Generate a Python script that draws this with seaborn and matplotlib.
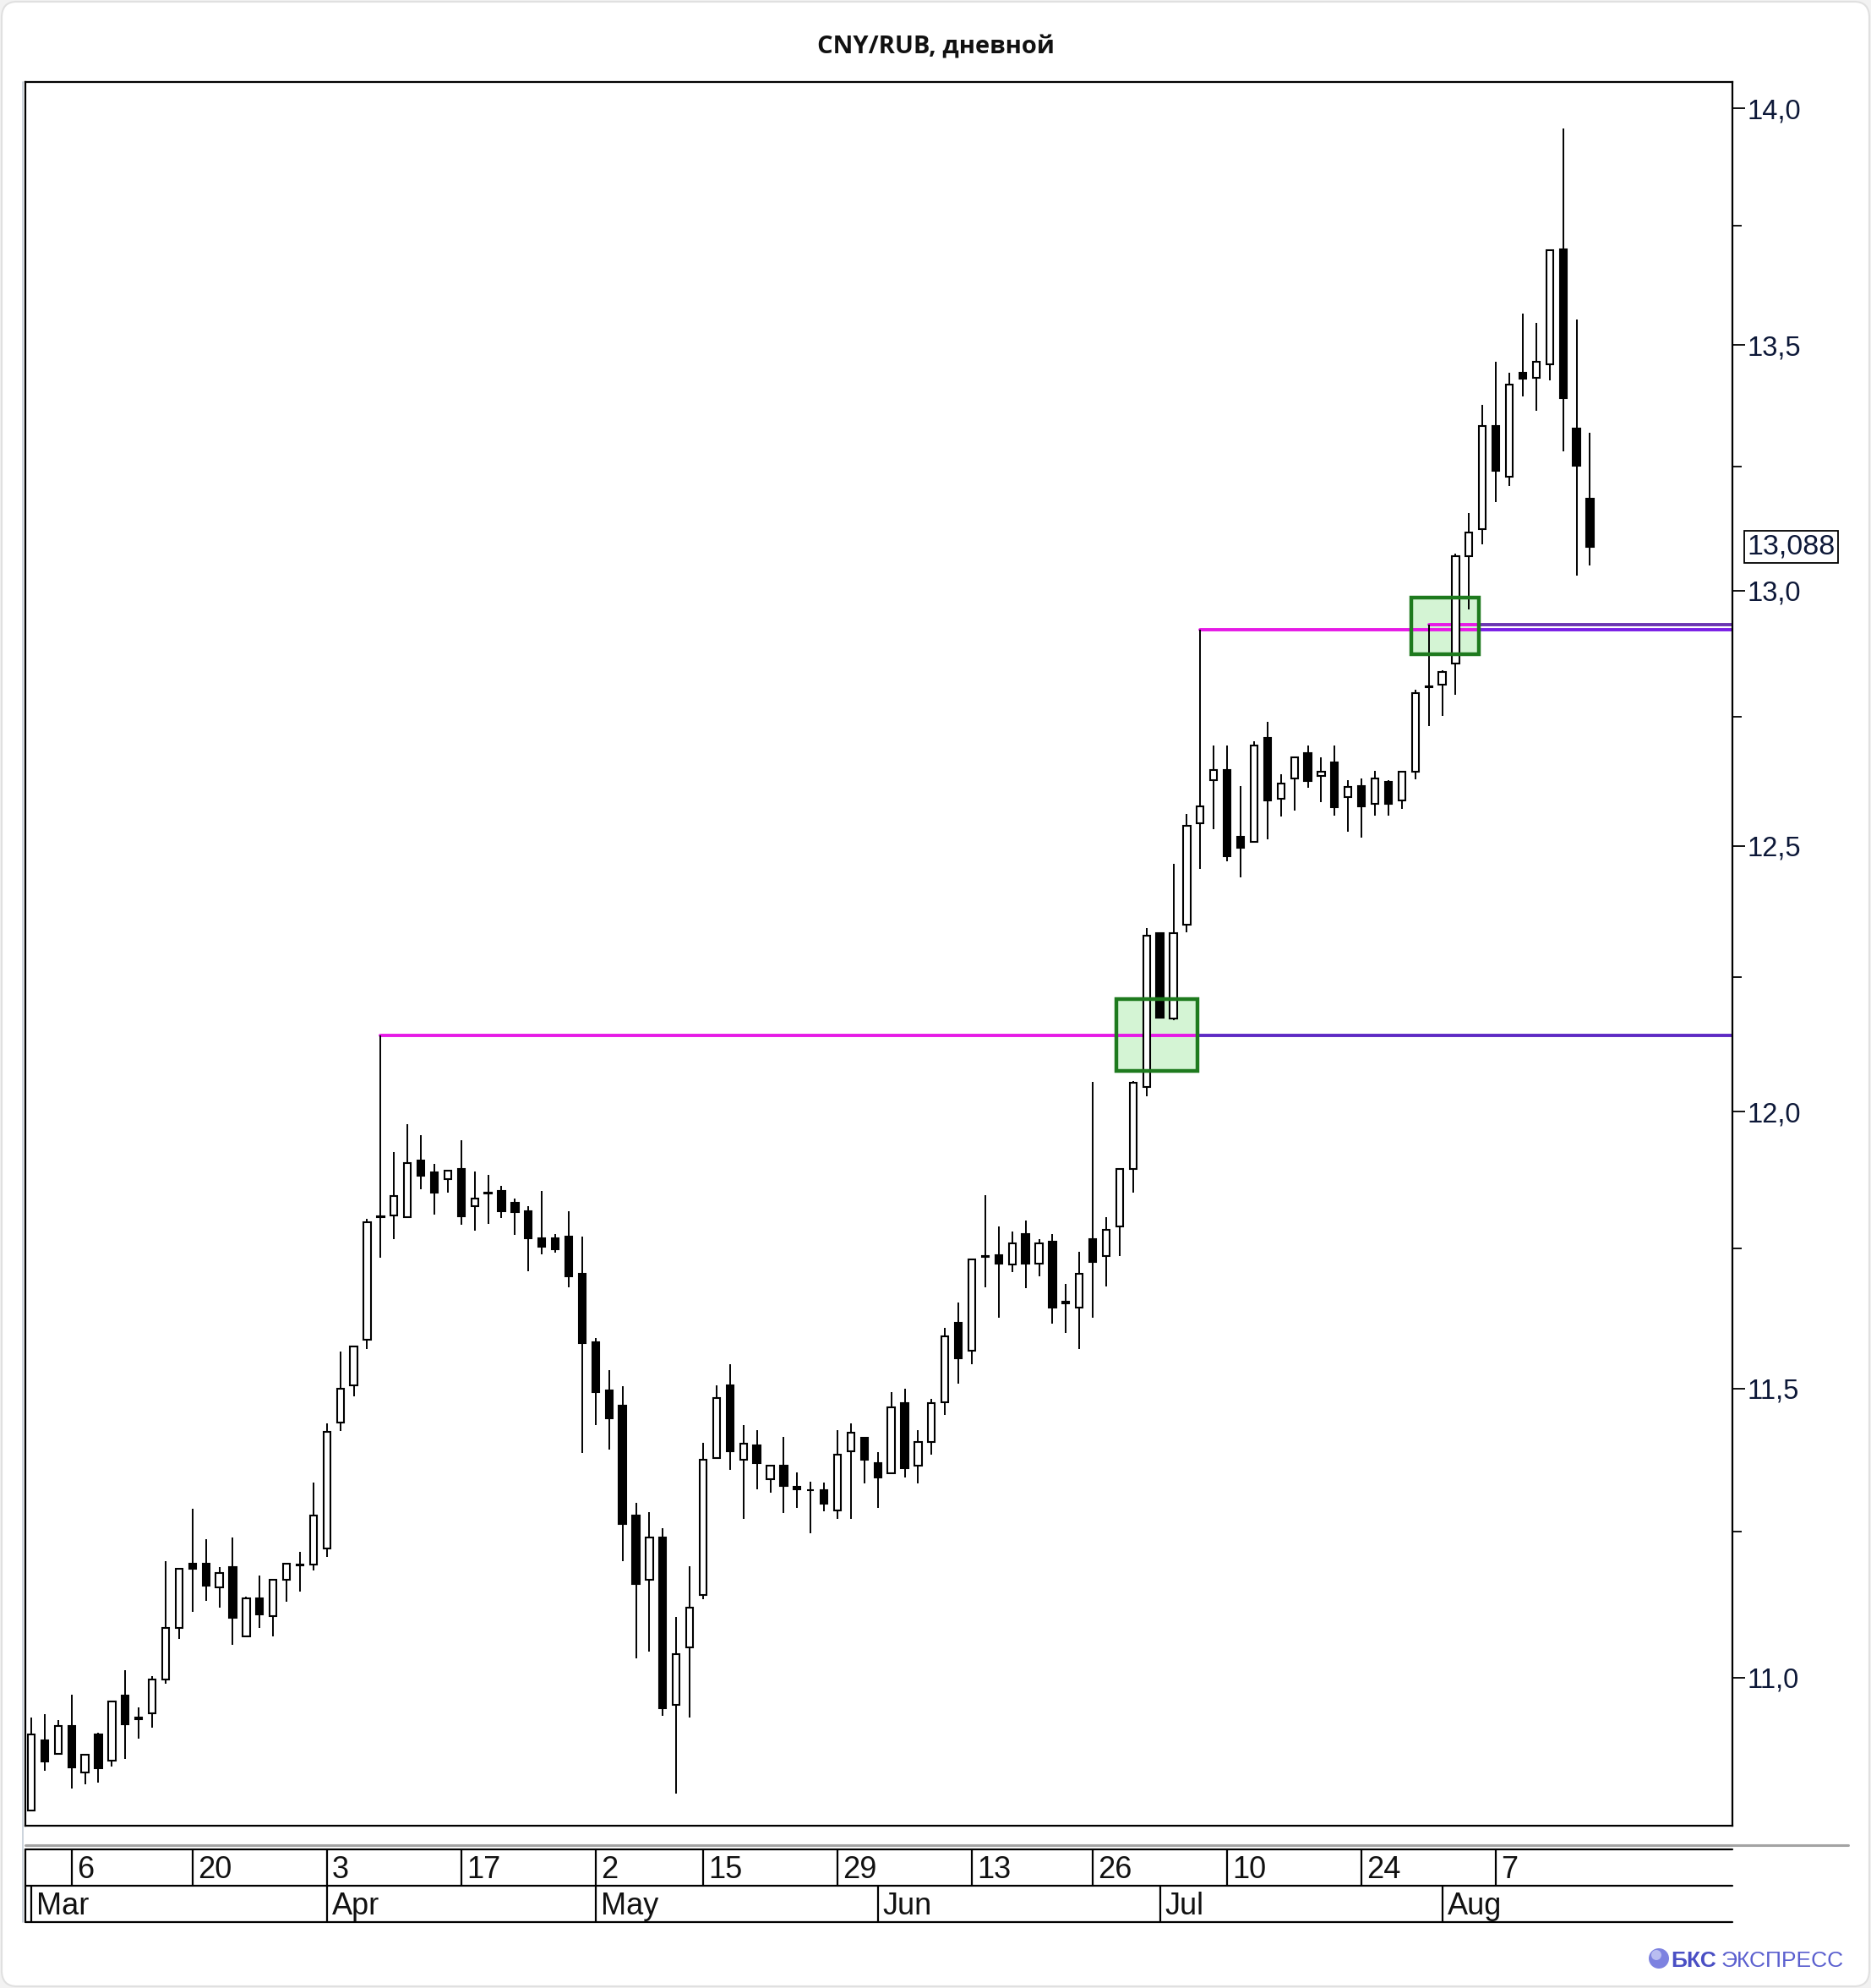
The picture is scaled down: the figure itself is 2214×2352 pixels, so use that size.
import numpy as np
import matplotlib
matplotlib.use("Agg")
import matplotlib.pyplot as plt
import seaborn as sns
from matplotlib.ticker import FixedLocator, FixedFormatter, NullFormatter
from matplotlib.patches import Rectangle, FancyBboxPatch, Circle
from matplotlib.lines import Line2D

# ---------------- data (daily CNY/RUB candles, index = trading day) ----------------
opens = [10.778, 10.895, 10.872, 10.919, 10.841, 10.905, 10.861, 10.969, 10.932, 10.940,
         10.997, 11.085, 11.195, 11.195, 11.154, 11.188, 11.070, 11.135, 11.104, 11.167,
         11.192, 11.193, 11.221, 11.440, 11.506, 11.586, 11.806, 11.810, 11.806, 11.910,
         11.888, 11.876, 11.894, 11.827, 11.852, 11.854, 11.833, 11.817, 11.768, 11.768,
         11.771, 11.705, 11.582, 11.497, 11.469, 11.277, 11.166, 11.240, 10.954, 11.051,
         11.141, 11.378, 11.506, 11.375, 11.400, 11.340, 11.365, 11.328, 11.322, 11.321,
         11.286, 11.390, 11.413, 11.368, 11.351, 11.474, 11.365, 11.406, 11.476, 11.616,
         11.567, 11.735, 11.738, 11.721, 11.776, 11.723, 11.763, 11.654, 11.644, 11.767,
         11.737, 11.790, 11.895, 12.046, 12.333, 12.172, 12.350, 12.543, 12.627, 12.647,
         12.517, 12.507, 12.710, 12.591, 12.631, 12.680, 12.635, 12.662, 12.595, 12.616,
         12.581, 12.623, 12.587, 12.644, 12.808, 12.814, 12.855, 13.069, 13.123, 13.334,
         13.230, 13.443, 13.433, 13.461, 13.701, 13.328, 13.186]
highs = [10.932, 10.938, 10.929, 10.971, 10.870, 10.907, 10.960, 11.012, 10.950, 11.003,
         11.199, 11.186, 11.289, 11.237, 11.188, 11.240, 11.137, 11.174, 11.166, 11.194,
         11.214, 11.335, 11.439, 11.566, 11.576, 11.803, 12.141, 11.926, 11.977, 11.957,
         11.903, 11.892, 11.947, 11.890, 11.883, 11.864, 11.841, 11.826, 11.854, 11.776,
         11.818, 11.772, 11.590, 11.533, 11.504, 11.299, 11.283, 11.255, 11.103, 11.190,
         11.404, 11.506, 11.543, 11.435, 11.426, 11.365, 11.414, 11.353, 11.336, 11.335,
         11.426, 11.439, 11.414, 11.388, 11.494, 11.500, 11.426, 11.481, 11.607, 11.653,
         11.732, 11.847, 11.790, 11.780, 11.800, 11.767, 11.776, 11.686, 11.744, 12.054,
         11.807, 11.895, 12.056, 12.343, 12.335, 12.465, 12.562, 12.922, 12.695, 12.695,
         12.616, 12.702, 12.741, 12.638, 12.672, 12.694, 12.672, 12.695, 12.627, 12.631,
         12.645, 12.627, 12.644, 12.804, 12.933, 12.842, 13.075, 13.157, 13.377, 13.466,
         13.443, 13.566, 13.546, 13.699, 13.958, 13.554, 13.320]
lows = [10.776, 10.843, 10.870, 10.814, 10.821, 10.824, 10.851, 10.864, 10.897, 10.915,
        10.989, 11.066, 11.112, 11.131, 11.119, 11.056, 11.070, 11.085, 11.070, 11.129,
        11.147, 11.182, 11.206, 11.425, 11.486, 11.570, 11.733, 11.767, 11.806, 11.858,
        11.811, 11.852, 11.793, 11.782, 11.795, 11.805, 11.775, 11.709, 11.740, 11.743,
        11.680, 11.386, 11.435, 11.392, 11.199, 11.032, 11.044, 10.936, 10.805, 10.932,
        11.134, 11.378, 11.357, 11.272, 11.323, 11.317, 11.282, 11.291, 11.247, 11.285,
        11.272, 11.272, 11.333, 11.291, 11.349, 11.343, 11.333, 11.383, 11.453, 11.508,
        11.543, 11.680, 11.625, 11.707, 11.678, 11.700, 11.615, 11.599, 11.570, 11.625,
        11.681, 11.737, 11.851, 12.028, 12.172, 12.170, 12.335, 12.456, 12.532, 12.470,
        12.440, 12.507, 12.513, 12.557, 12.568, 12.612, 12.584, 12.559, 12.527, 12.516,
        12.559, 12.559, 12.572, 12.628, 12.732, 12.752, 12.793, 12.962, 13.093, 13.178,
        13.211, 13.394, 13.364, 13.427, 13.282, 13.031, 13.050]
closes = [10.905, 10.859, 10.919, 10.849, 10.870, 10.848, 10.960, 10.922, 10.930, 10.997,
          11.085, 11.186, 11.185, 11.157, 11.179, 11.101, 11.135, 11.107, 11.166, 11.194,
          11.193, 11.277, 11.424, 11.500, 11.574, 11.797, 11.808, 11.845, 11.906, 11.882,
          11.852, 11.892, 11.809, 11.840, 11.850, 11.818, 11.816, 11.769, 11.753, 11.748,
          11.700, 11.580, 11.493, 11.447, 11.263, 11.159, 11.239, 10.948, 11.040, 11.119,
          11.375, 11.483, 11.390, 11.402, 11.368, 11.365, 11.329, 11.323, 11.321, 11.298,
          11.384, 11.422, 11.374, 11.343, 11.467, 11.360, 11.406, 11.474, 11.593, 11.553,
          11.730, 11.737, 11.723, 11.759, 11.723, 11.759, 11.644, 11.651, 11.704, 11.726,
          11.783, 11.895, 12.053, 12.329, 12.174, 12.333, 12.539, 12.576, 12.647, 12.480,
          12.496, 12.695, 12.587, 12.620, 12.672, 12.626, 12.644, 12.574, 12.614, 12.576,
          12.631, 12.581, 12.644, 12.797, 12.811, 12.838, 13.070, 13.117, 13.334, 13.242,
          13.419, 13.431, 13.465, 13.699, 13.390, 13.252, 13.088]

day_tick_idx = [3, 12, 22, 32, 42, 50, 60, 70, 79, 89, 99, 109]
day_tick_labels = ['6', '20', '3', '17', '2', '15', '29', '13', '26', '10', '24', '7']
month_idx = [0, 22, 42, 63, 84, 105]
month_labels = ['Mar', 'Apr', 'May', 'Jun', 'Jul', 'Aug']

y_major = [11.0, 11.5, 12.0, 12.5, 13.0, 13.5, 14.0]
y_major_labels = ['11,0', '11,5', '12,0', '12,5', '13,0', '13,5', '14,0']
y_minor = [11.25, 11.75, 12.25, 12.75, 13.25, 13.75]

last_price = 13.088
last_label = '13,088'

# horizontal levels: value, starting candle, point where the colour changes
level_values = [12.141, 12.922, 12.933]
level_start = [26, 87, 104]
level_switch = [86.78, 107.76, 107.76]
level_after_colors = ['#5E2AC4', '#7A1FE6', '#6A35B2']

# highlight boxes
box_x0 = [80.76, 102.70]
box_x1 = [86.78, 107.76]
box_y0 = [12.075, 12.873]
box_y1 = [12.209, 12.987]

title_text = 'CNY/RUB, дневной'

# ---------------- style ----------------
sns.set_theme(style='white')
plt.rcParams['font.family'] = ['Liberation Sans', 'DejaVu Sans']

W, H = 2214, 2352
fig = plt.figure(figsize=(W / 100, H / 100), dpi=100)
fig.patch.set_facecolor('#f2f2f2')


def fx(px):
    return px / W


def fy(py):
    return 1 - py / H


card = FancyBboxPatch((2 / W, 2 / H), 1 - 4 / W, 1 - 4 / H,
                      boxstyle='round,pad=0,rounding_size=0.008',
                      transform=fig.transFigure, facecolor='white',
                      edgecolor='#e0e0e0', lw=1.5, zorder=-5)
fig.patches.append(card)

XMIN, XMAX = -0.47, 126.6
YMIN, YMAX = 10.7524, 14.0574

ax = fig.add_axes([fx(29.5), fy(2160), fx(2050) - fx(29.5), fy(97) - fy(2160)])
ax.set_facecolor('white')
ax.set_yscale('log')

x = np.arange(len(opens))
o = np.array(opens)
c = np.array(closes)
h = np.array(highs)
l = np.array(lows)
up = c >= o
bottoms = np.minimum(o, c)
heights = np.maximum(np.abs(c - o), 0.0012)

# boxes fill (under candles)
for x0, x1, y0, y1 in zip(box_x0, box_x1, box_y0, box_y1):
    ax.add_patch(Rectangle((x0, y0), x1 - x0, y1 - y0, facecolor='#d4f4d4',
                           edgecolor='none', zorder=1.5))

# level lines via seaborn
for val, s, sw, col2 in zip(level_values, level_start, level_switch, level_after_colors):
    sns.lineplot(x=[s, sw], y=[val, val], color='#E61AE6', lw=2.8, ax=ax,
                 legend=False, estimator=None, sort=False, zorder=2.5)
    sns.lineplot(x=[sw, XMAX], y=[val, val], color=col2, lw=2.8, ax=ax,
                 legend=False, estimator=None, sort=False, zorder=2.5)

# candles
ax.vlines(x, l, h, color='black', lw=1.4, zorder=3)
ax.bar(x[up], heights[up], bottom=bottoms[up], width=0.52, color='white',
       edgecolor='black', lw=1.5, zorder=4)
ax.bar(x[~up], heights[~up], bottom=bottoms[~up], width=0.52, color='black',
       edgecolor='black', lw=1.5, zorder=4)

# box outlines
for x0, x1, y0, y1 in zip(box_x0, box_x1, box_y0, box_y1):
    ax.add_patch(Rectangle((x0, y0), x1 - x0, y1 - y0, facecolor='none',
                           edgecolor='#1E7A1E', lw=3.2, zorder=5))

ax.set_xlim(XMIN, XMAX)
ax.set_ylim(YMIN, YMAX)
ax.set_xlabel('')
ax.set_ylabel('')
ax.set_xticks([])
ax.yaxis.set_major_locator(FixedLocator(y_major))
ax.yaxis.set_major_formatter(FixedFormatter(y_major_labels))
ax.yaxis.set_minor_locator(FixedLocator(y_minor))
ax.yaxis.set_minor_formatter(NullFormatter())
ax.tick_params(axis='y', which='both', left=False, labelleft=False,
               right=True, labelright=True, direction='out', color='black')
ax.tick_params(axis='y', which='major', length=11, width=1.3, pad=1.5,
               labelsize=23.5, labelcolor='#0d1838')
ax.tick_params(axis='y', which='minor', length=8, width=1.3)
for sp in ax.spines.values():
    sp.set_visible(True)
    sp.set_color('black')
    sp.set_linewidth(1.6)

ax.text(1.0085, last_price, last_label, transform=ax.get_yaxis_transform(),
        ha='left', va='center', fontsize=24.5, color='#0d1838', clip_on=False,
        bbox=dict(boxstyle='square,pad=0.1', facecolor='white',
                  edgecolor='black', lw=1.3))

# ---------------- date table ----------------
tax = fig.add_axes([fx(29.5), fy(2274), fx(2050) - fx(29.5), fy(2188) - fy(2274)])
tax.set_xlim(XMIN, XMAX)
tax.set_ylim(0, 1)
tax.axis('off')
tlw = 1.6
for yy in (0, 0.5, 1):
    tax.axhline(yy, color='black', lw=tlw, clip_on=False)
tax.axvline(XMIN, color='black', lw=tlw, clip_on=False)
tax.vlines(day_tick_idx, 0.5, 1, color='black', lw=tlw, clip_on=False)
tax.vlines(month_idx, 0, 0.5, color='black', lw=tlw, clip_on=False)
narrow = ['Liberation Sans Narrow', 'Liberation Sans', 'DejaVu Sans']
for i, lab in zip(day_tick_idx, day_tick_labels):
    tax.text(i + 0.38, 0.60, lab, ha='left', va='baseline', fontsize=26,
             color='#111111', family=narrow)
for i, lab in zip(month_idx, month_labels):
    tax.text(i + 0.38, 0.11, lab, ha='left', va='baseline', fontsize=26,
             color='#111111', family=narrow)

# separators / decorations
fig.add_artist(Line2D([fx(29.5), fx(2187)], [fy(2183), fy(2183)], color='#a3a3a3',
                      lw=2.2, transform=fig.transFigure))
fig.add_artist(Line2D([fx(27), fx(27)], [fy(97), fy(2274)], color='#c3ccd6',
                      lw=1.2, transform=fig.transFigure))

fig.text(0.5, fy(56), title_text, ha='center', va='center', fontsize=21,
         fontweight='bold', color='#111111', family=['Open Sans', 'DejaVu Sans'])

# footer logo
fig.add_artist(Circle((19.63, (H - 2317) / 100), 0.12, transform=fig.dpi_scale_trans,
                      facecolor='#7d82e0', edgecolor='none'))
fig.add_artist(Circle((19.60, (H - 2313) / 100), 0.06, transform=fig.dpi_scale_trans,
                      facecolor='#c9ccf6', edgecolor='none', alpha=0.8))
fig.text(fx(1977), fy(2327), 'БКС', ha='left', va='baseline', fontsize=19,
         fontweight='bold', color='#4a4fc4')
fig.text(fx(2037), fy(2327), 'ЭКСПРЕСС', ha='left', va='baseline', fontsize=19,
         color='#5b60cf')

fig.savefig('out.png', dpi=100, facecolor=fig.get_facecolor())
